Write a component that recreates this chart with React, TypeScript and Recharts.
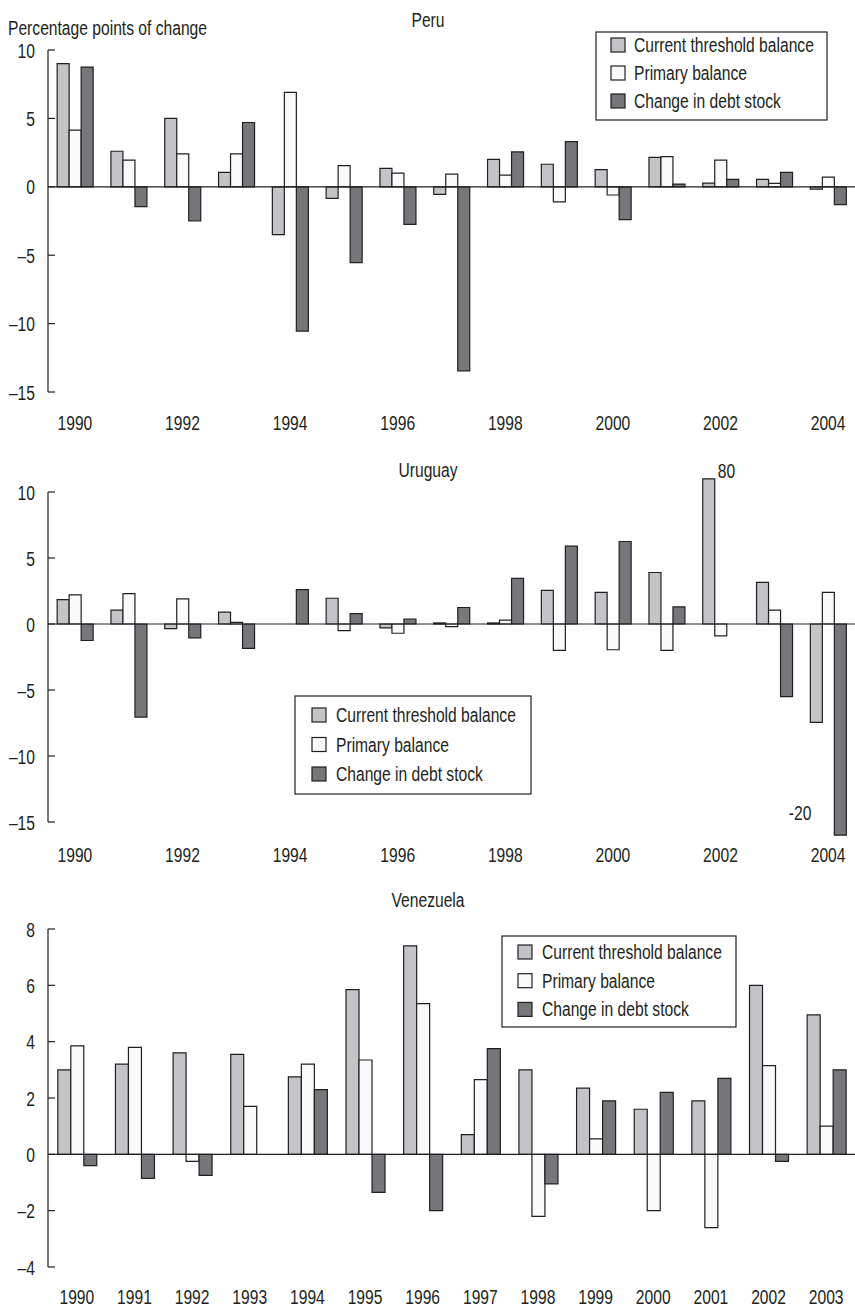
import React from 'react';
import { BarChart, Bar, XAxis, YAxis, ReferenceLine, LabelList } from 'recharts';

const FONT = "'Liberation Sans', Arial, sans-serif";
const FS = 21;
const SX = 0.745;
const LIGHT = '#c3c4c8';
const WHITE = '#fafafa';
const DARK = '#76777b';
const INK = '#231f20';

const seriesNames = ['Current threshold balance', 'Primary balance', 'Change in debt stock'];

// Peru
const peruYears = ['1990', '1991', '1992', '1993', '1994', '1995', '1996', '1997', '1998', '1999', '2000', '2001', '2002', '2003', '2004'];
const peruCurrent = [9.0, 2.6, 5.0, 1.05, -3.5, -0.85, 1.35, -0.55, 2.0, 1.65, 1.25, 2.15, 0.27, 0.55, -0.17];
const peruPrimary = [4.15, 1.95, 2.4, 2.4, 6.9, 1.55, 1.0, 0.93, 0.85, -1.1, -0.6, 2.2, 1.95, 0.25, 0.7];
const peruDebt = [8.75, -1.45, -2.5, 4.7, -10.55, -5.55, -2.75, -13.45, 2.55, 3.3, -2.4, 0.2, 0.55, 1.05, -1.3];
const peruTicks = [-15, -10, -5, 0, 5, 10];

// Uruguay
const uruguayYears = ['1990', '1991', '1992', '1993', '1994', '1995', '1996', '1997', '1998', '1999', '2000', '2001', '2002', '2003', '2004'];
const uruguayCurrent = [1.85, 1.05, -0.35, 0.9, 0, 1.95, -0.3, 0.08, 0.08, 2.55, 2.4, 3.9, 11.0, 3.15, -7.45];
const uruguayPrimary = [2.2, 2.3, 1.9, 0.13, 0, -0.5, -0.7, -0.2, 0.3, -2.0, -1.95, -2.0, -0.9, 1.05, 2.4];
const uruguayDebt = [-1.25, -7.05, -1.05, -1.85, 2.6, 0.78, 0.38, 1.25, 3.45, 5.9, 6.25, 1.3, 0, -5.5, -16.0];
const uruguayCurrentNotes = ['', '', '', '', '', '', '', '', '', '', '', '', '80', '', ''];
const uruguayDebtNotes = ['', '', '', '', '', '', '', '', '', '', '', '', '', '', '-20'];
const uruguayTicks = [-15, -10, -5, 0, 5, 10];

// Venezuela
const venezuelaYears = ['1990', '1991', '1992', '1993', '1994', '1995', '1996', '1997', '1998', '1999', '2000', '2001', '2002', '2003'];
const venezuelaCurrent = [3.0, 3.2, 3.6, 3.55, 2.75, 5.85, 7.4, 0.7, 3.0, 2.35, 1.6, 1.9, 6.0, 4.95];
const venezuelaPrimary = [3.85, 3.8, -0.25, 1.7, 3.2, 3.35, 5.35, 2.65, -2.2, 0.55, -2.0, -2.6, 3.15, 1.0];
const venezuelaDebt = [-0.4, -0.85, -0.75, 0, 2.3, -1.35, -2.0, 3.75, -1.05, 1.9, 2.2, 2.7, -0.25, 3.0];
const venezuelaTicks = [-4, -2, 0, 2, 4, 6, 8];

const fmt = (v: number) => (v < 0 ? '\u2013' + Math.abs(v) : String(v));

const T = ({ x, y, anchor = 'start', children }: any) => (
  <text
    transform={`translate(${x},${y}) scale(${SX},1)`}
    textAnchor={anchor}
    fontFamily={FONT}
    fontSize={FS}
    fill={INK}
  >
    {children}
  </text>
);

const YTick = (props: any) => {
  const { x, y, payload } = props;
  return (
    <g>
      <line x1={x} x2={x + 7} y1={y} y2={y} stroke={INK} strokeWidth={1.2} />
      <T x={x - 13} y={y + 7.5} anchor="end">
        {fmt(payload.value)}
      </T>
    </g>
  );
};

const makeXTick = (offset: number) => (props: any) => {
  const { x, y, payload } = props;
  return (
    <T x={x} y={y + offset} anchor="middle">
      {payload.value}
    </T>
  );
};

const TopNote = (p: any) => {
  if (!p.value) return <g />;
  const top = Math.min(p.y, p.y + p.height);
  return (
    <T x={p.x + p.width + 3} y={top - 1}>
      {p.value}
    </T>
  );
};

const BottomNote = (p: any) => {
  if (!p.value) return <g />;
  const bottom = Math.max(p.y, p.y + p.height);
  return (
    <T x={p.x - 23} y={bottom - 15} anchor="end">
      {p.value}
    </T>
  );
};

type PanelProps = {
  top: number;
  height: number;
  years: string[];
  current: number[];
  primary: number[];
  debt: number[];
  domain: [number, number];
  ticks: number[];
  interval: number;
  marginTop: number;
  xAxisHeight: number;
  labelOffset: number;
  currentNotes?: string[];
  debtNotes?: string[];
};

const Panel = (p: PanelProps) => {
  const data = p.years.map((year, i) => ({
    year,
    current: p.current[i],
    primary: p.primary[i],
    debt: p.debt[i],
    cNote: p.currentNotes ? p.currentNotes[i] : '',
    dNote: p.debtNotes ? p.debtNotes[i] : '',
  }));
  return (
    <div style={{ position: 'absolute', left: 0, top: p.top, width: 855, height: p.height }}>
      <BarChart
        width={855}
        height={p.height}
        data={data}
        margin={{ top: p.marginTop, right: 0, bottom: 0, left: 0 }}
        barCategoryGap="17%"
        barGap={0}
      >
        <XAxis
          dataKey="year"
          interval={p.interval}
          axisLine={false}
          tickLine={false}
          tickSize={0}
          tickMargin={0}
          height={p.xAxisHeight}
          tick={makeXTick(p.labelOffset)}
        />
        <YAxis
          type="number"
          domain={p.domain}
          ticks={p.ticks}
          width={48}
          axisLine={false}
          tickLine={false}
          tickSize={0}
          tickMargin={0}
          tick={YTick}
        />
        <Bar dataKey="current" fill={LIGHT} stroke={INK} strokeWidth={1.2} isAnimationActive={false}>
          {p.currentNotes ? <LabelList dataKey="cNote" content={TopNote} /> : null}
        </Bar>
        <Bar dataKey="primary" fill={WHITE} stroke={INK} strokeWidth={1.2} isAnimationActive={false} />
        <Bar dataKey="debt" fill={DARK} stroke={INK} strokeWidth={1.2} isAnimationActive={false}>
          {p.debtNotes ? <LabelList dataKey="dNote" content={BottomNote} /> : null}
        </Bar>
        <ReferenceLine y={0} stroke={INK} strokeWidth={1.2} />
        <ReferenceLine
          segment={[
            { x: p.years[0], y: p.ticks[0] },
            { x: p.years[0], y: p.ticks[p.ticks.length - 1] },
          ]}
          position="start"
          stroke={INK}
          strokeWidth={1.2}
        />
      </BarChart>
    </div>
  );
};

type LegendProps = { x: number; y: number; w: number; h: number; sq: number; tx: number; b0: number; gap: number };

const LegendBox = (l: LegendProps) => {
  const fills = [LIGHT, WHITE, DARK];
  return (
    <g>
      <rect x={l.x} y={l.y} width={l.w} height={l.h} fill="#fff" stroke={INK} strokeWidth={1.2} />
      {seriesNames.map((name, i) => {
        const base = l.y + l.b0 + i * l.gap;
        return (
          <g key={name}>
            <rect x={l.x + l.sq} y={base - 14} width={14} height={14} fill={fills[i]} stroke={INK} strokeWidth={1.2} />
            <T x={l.x + l.tx} y={base}>
              {name}
            </T>
          </g>
        );
      })}
    </g>
  );
};

export default function App() {
  return (
    <div style={{ position: 'absolute', left: 0, top: 0, width: 855, height: 1308, overflow: 'hidden', background: '#fff' }}>
      <Panel
        top={0}
        height={440}
        years={peruYears}
        current={peruCurrent}
        primary={peruPrimary}
        debt={peruDebt}
        domain={[-15, 10]}
        ticks={peruTicks}
        interval={1}
        marginTop={50}
        xAxisHeight={48}
        labelOffset={38}
      />
      <Panel
        top={440}
        height={430}
        years={uruguayYears}
        current={uruguayCurrent}
        primary={uruguayPrimary}
        debt={uruguayDebt}
        domain={[-16.5, 11.5]}
        ticks={uruguayTicks}
        interval={1}
        marginTop={32.2}
        xAxisHeight={28.2}
        labelOffset={20.2}
        currentNotes={uruguayCurrentNotes}
        debtNotes={uruguayDebtNotes}
      />
      <Panel
        top={870}
        height={438}
        years={venezuelaYears}
        current={venezuelaCurrent}
        primary={venezuelaPrimary}
        debt={venezuelaDebt}
        domain={[-4, 8]}
        ticks={venezuelaTicks}
        interval={0}
        marginTop={59}
        xAxisHeight={41}
        labelOffset={37}
      />
      <svg
        width={855}
        height={1308}
        style={{ position: 'absolute', left: 0, top: 0, pointerEvents: 'none' }}
      >
        <T x={8} y={35}>Percentage points of change</T>
        <T x={428} y={27} anchor="middle">Peru</T>
        <T x={428} y={477} anchor="middle">Uruguay</T>
        <T x={428} y={907} anchor="middle">Venezuela</T>
        <LegendBox x={596} y={32} w={231} h={88} sq={15} tx={38} b0={20} gap={28} />
        <LegendBox x={295} y={696} w={236} h={98} sq={17} tx={41} b0={26} gap={29.5} />
        <LegendBox x={502} y={936} w={234} h={91} sq={16} tx={40} b0={23} gap={28.7} />
      </svg>
    </div>
  );
}
